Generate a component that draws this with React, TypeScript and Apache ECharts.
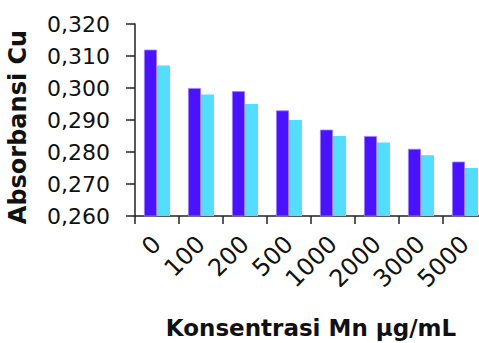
import React, { useEffect, useRef } from "react";
import * as echarts from "echarts";

// Mn concentration (µg/mL) on the category axis
const categories = ["0", "100", "200", "500", "1000", "2000", "3000", "5000"];
// Cu absorbance, first and second measurement series
const seriesA = [0.312, 0.3, 0.299, 0.293, 0.287, 0.285, 0.281, 0.277];
const seriesB = [0.307, 0.298, 0.295, 0.29, 0.285, 0.283, 0.279, 0.275];
const yMin = 0.26;
const yMax = 0.32;
const yStep = 0.01;

const FONT = "DejaVu Sans";

export default function App() {
  const ref = useRef<HTMLDivElement>(null);

  useEffect(() => {
    if (!ref.current) return;
    const chart = echarts.init(ref.current, null, { renderer: "svg" });
    chart.setOption({
      animation: false,
      backgroundColor: "#ffffff",
      grid: {
        left: 135,
        top: 24,
        width: 352,
        height: 192,
        containLabel: false,
        outerBoundsMode: "none",
      },
      xAxis: {
        type: "category",
        data: categories,
        boundaryGap: true,
        axisLine: { lineStyle: { color: "#222", width: 1.5 } },
        axisTick: { show: true, length: 8, alignWithLabel: false, lineStyle: { color: "#222", width: 1.5 } },
        axisLabel: {
          rotate: 45,
          margin: 24,
          interval: 0,
          fontFamily: FONT,
          fontSize: 24,
          color: "#111",
        },
        name: "Konsentrasi Mn µg/mL",
        nameLocation: "middle",
        nameGap: 100,
        nameTextStyle: {
          fontFamily: FONT,
          fontWeight: "bold",
          fontSize: 23,
          color: "#111",
        },
      },
      yAxis: {
        type: "value",
        min: yMin,
        max: yMax,
        interval: yStep,
        splitLine: { show: false },
        axisLine: { show: true, lineStyle: { color: "#222", width: 1.5 } },
        axisTick: { show: true, length: 9, lineStyle: { color: "#222", width: 1.5 } },
        axisLabel: {
          margin: 25,
          fontFamily: FONT,
          fontSize: 22,
          color: "#111",
          formatter: (v: number) => v.toFixed(3).replace(".", ","),
        },
        name: "Absorbansi Cu",
        nameLocation: "middle",
        nameGap: 105,
        nameRotate: 90,
        nameTextStyle: {
          fontFamily: FONT,
          fontWeight: "bold",
          fontSize: 24,
          color: "#111",
          padding: [0, 14, 0, 0],
        },
      },
      series: [
        {
          type: "bar",
          data: seriesA,
          barWidth: 13,
          barGap: "0%",
          itemStyle: { color: "#4A12FF", borderColor: "#9C80FF", borderWidth: 0.8 },
        },
        {
          type: "bar",
          data: seriesB,
          barWidth: 13,
          itemStyle: { color: "#55DDFF" },
        },
      ],
    });
    return () => chart.dispose();
  }, []);

  return <div ref={ref} style={{ width: 479, height: 343, position: "absolute", left: 0, top: 0 }} />;
}
